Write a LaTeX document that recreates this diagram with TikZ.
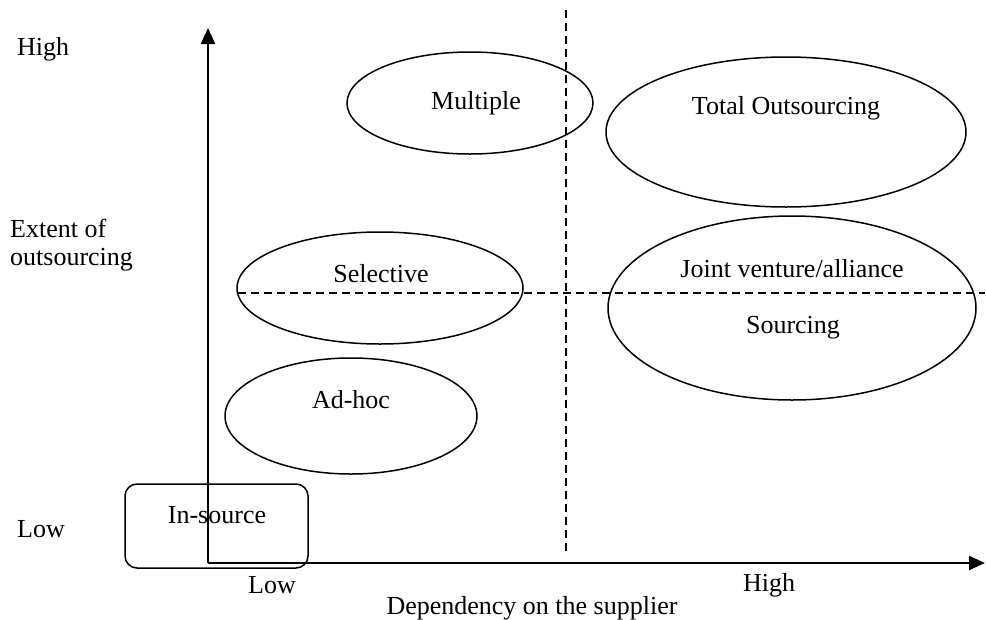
\documentclass[tikz,border=0pt]{standalone}
\usepackage{fontspec}
\setmainfont{Liberation Serif}
\usetikzlibrary{shapes.geometric,arrows.meta}
\begin{document}
\begin{tikzpicture}[x=1pt,y=-1pt,
  oval/.style={draw,ellipse,line width=1.5pt,inner sep=0pt},
  txt/.style={font=\fontsize{26}{30}\selectfont,inner sep=0pt,anchor=base},
  axis/.style={line width=2.2pt,-{Triangle[length=16pt,width=14pt]}},
  guide/.style={line width=1.5pt,dash pattern=on 8pt off 5pt}]
\useasboundingbox (0,0) rectangle (986,619);
% guides
\coordinate (vtop) at (566,10);
\coordinate (vbot) at (566,555);
\coordinate (hl) at (238,293);
\coordinate (hr) at (985,293);
\draw[guide] (vtop) -- (vbot);
\draw[guide] (hl) -- (hr);
% ellipses
\node[oval,minimum width=246pt,minimum height=102pt] (mul) at (470,103) {};
\node[oval,minimum width=360pt,minimum height=150pt] (tot) at (786,132) {};
\node[oval,minimum width=368pt,minimum height=184pt] (jv) at (792,308) {};
\node[oval,minimum width=286pt,minimum height=112pt] (sel) at (380,288) {};
\node[oval,minimum width=252pt,minimum height=116pt] (adh) at (351,416) {};
% in-source box
\node[draw,line width=1.5pt,rounded corners=12pt,minimum width=183pt,minimum height=84pt,inner sep=0pt] (ins) at (216.5,526) {};
% axes
\coordinate (o) at (208,563);
\coordinate (ytip) at (208,28);
\coordinate (xtip) at (985,563);
\draw[axis] (o) -- (ytip);
\draw[axis] (o) -- (xtip);
% labels
\node[txt] (tmul) at (476,109) {Multiple};
\node[txt] (ttot) at (786,114) {Total Outsourcing};
\node[txt] (tjv) at (792,277) {Joint venture/alliance};
\node[txt] (tsrc) at (793,333) {Sourcing};
\node[txt] (tsel) at (381,282) {Selective};
\node[txt] (tadh) at (351,408) {Ad-hoc};
\node[txt] (tins) at (217,523) {In-source};
\node[txt,anchor=base west] (yhigh) at (17,55) {High};
\node[txt,anchor=base west] (ext1) at (10,237) {Extent of};
\node[txt,anchor=base west] (ext2) at (10,265) {outsourcing};
\node[txt,anchor=base west] (ylow) at (17,537) {Low};
\node[txt] (xlow) at (272,593) {Low};
\node[txt] (xhigh) at (769,591) {High};
\node[txt] (xlab) at (532,614) {Dependency on the supplier};
\end{tikzpicture}
\end{document}
